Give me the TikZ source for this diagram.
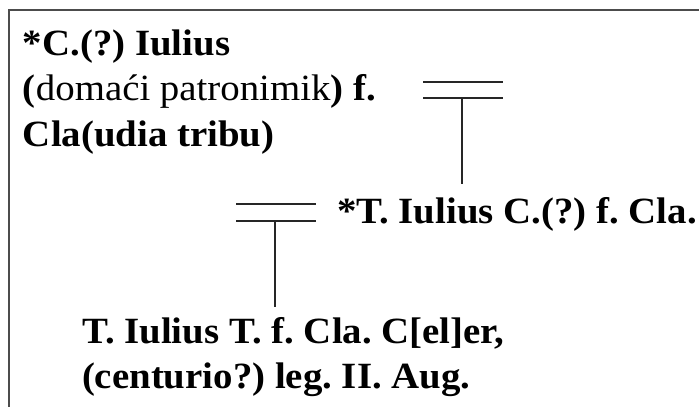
\documentclass[tikz,border=0pt]{standalone}
\usepackage{fontspec}
\setmainfont[FakeStretch=1.05]{Liberation Serif}
\begin{document}
\frenchspacing
\begin{tikzpicture}[x=1pt,y=-1pt,
  txt/.style={anchor=base west,inner sep=0pt,outer sep=0pt,font=\fontsize{37}{44}\selectfont\frenchspacing},
  bar/.style={line width=2pt,black!85},
  frame/.style={line width=1.6pt,black!70}]
\useasboundingbox (0,0) rectangle (699,407);
\draw[frame] (9,407) -- (9,10) -- (699,10);
% texts
\node[txt] (a1) at (23,55) {\textbf{*C.(?) Iulius}};
\node[txt] (a2) at (23,100) {\textbf{(}domaći patronimik\textbf{) f.}};
\node[txt] (a3) at (23,146) {\textbf{Cla(udia tribu)}};
\node[txt] (b) at (337,223) {\textbf{*T. Iulius C.(?) f. Cla.}};
\node[txt] (c1) at (82,343) {\textbf{T. Iulius T. f. Cla. C[el]er,}};
\node[txt] (c2) at (82,388) {\textbf{(centurio?) leg. II. Aug.}};
% upper marriage symbol
\coordinate (u1l) at (423,82); \coordinate (u1r) at (503,82);
\coordinate (u2l) at (423,98); \coordinate (u2r) at (503,98);
\coordinate (um) at (462,98); \coordinate (ue) at (462,184);
\draw[bar] (u1l) -- (u1r);
\draw[bar] (u2l) -- (u2r);
\draw[bar] (um) -- (ue);
% lower marriage symbol
\coordinate (l1l) at (236,204); \coordinate (l1r) at (316,204);
\coordinate (l2l) at (236,221); \coordinate (l2r) at (316,221);
\coordinate (lm) at (275,221); \coordinate (le) at (275,307);
\draw[bar] (l1l) -- (l1r);
\draw[bar] (l2l) -- (l2r);
\draw[bar] (lm) -- (le);
\end{tikzpicture}
\end{document}
